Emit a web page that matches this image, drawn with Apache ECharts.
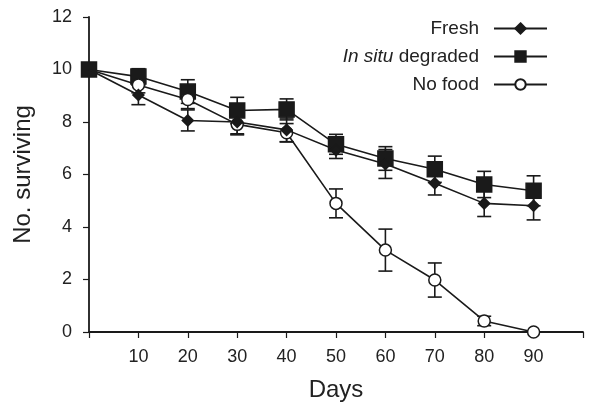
<!DOCTYPE html>
<html>
<head>
    <meta charset="utf-8">
    <title>Survival</title>
    <script src="https://cdn.jsdelivr.net/npm/echarts@6/dist/echarts.min.js"></script>
    <style>
        body { margin: 0; background: #fff; }
        #chart { width: 604px; height: 404px; }
    </style>
</head>
<body>
    <div id="chart"></div>
    <script type="text/javascript">
        // data
        var days = [0, 10, 20, 30, 40, 50, 60, 70, 80, 90];
        var freshMean = [10, 9.03, 8.06, 8.0, 7.7, 6.93, 6.4, 5.67, 4.9, 4.81];
        var freshErr  = [0, 0.37, 0.4, 0.45, 0.45, 0.32, 0.55, 0.45, 0.5, 0.54];
        var insituMean = [10, 9.73, 9.16, 8.44, 8.48, 7.15, 6.61, 6.2, 5.62, 5.38];
        var insituErr  = [0, 0.3, 0.45, 0.5, 0.4, 0.38, 0.45, 0.5, 0.5, 0.57];
        var nofoodMean = [10, 9.41, 8.86, 7.91, 7.59, 4.9, 3.12, 1.98, 0.42, 0];
        var nofoodErr  = [0, 0.3, 0.35, 0.4, 0.35, 0.55, 0.8, 0.65, 0.18, 0];
        var yTicks = [0, 2, 4, 6, 8, 10, 12];

        var ink = '#1a1a1a';
        var chart = echarts.init(document.getElementById('chart'));

        // day 0 is a shared start point, only the square is drawn there
        function pairs(means, hideFirst) {
            return days.map(function (d, i) {
                if (hideFirst && i === 0) return { value: [d, means[i]], symbol: 'none' };
                return [d, means[i]];
            });
        }
        function errRows(means, errs) {
            var rows = [];
            days.forEach(function (d, i) {
                if (errs[i] > 0) rows.push([d, means[i] - errs[i], means[i] + errs[i]]);
            });
            return rows;
        }
        function errSeries(means, errs) {
            return {
                type: 'custom',
                z: 1,
                silent: true,
                data: errRows(means, errs),
                encode: { x: 0, y: [1, 2] },
                renderItem: function (params, api) {
                    var lo = api.coord([api.value(0), api.value(1)]);
                    var hi = api.coord([api.value(0), api.value(2)]);
                    var w = 7;
                    var st = { stroke: ink, lineWidth: 1.6 };
                    return {
                        type: 'group',
                        children: [
                            { type: 'line', shape: { x1: lo[0], y1: lo[1], x2: hi[0], y2: hi[1] }, style: st },
                            { type: 'line', shape: { x1: lo[0] - w, y1: lo[1], x2: lo[0] + w, y2: lo[1] }, style: st },
                            { type: 'line', shape: { x1: hi[0] - w, y1: hi[1], x2: hi[0] + w, y2: hi[1] }, style: st }
                        ]
                    };
                }
            };
        }
        function lineSeries(name, means, symbol, size, fill, hideFirst, z) {
            return {
                name: name,
                type: 'line',
                z: z,
                data: pairs(means, hideFirst),
                symbol: symbol,
                symbolSize: size,
                showAllSymbol: true,
                lineStyle: { color: ink, width: 1.6 },
                itemStyle: { color: fill, borderColor: ink, borderWidth: 1.5 },
                emphasis: { disabled: true }
            };
        }

        chart.setOption({
            animation: false,
            textStyle: { fontFamily: 'Liberation Sans, Arial, sans-serif', color: '#222' },
            grid: { left: 89, right: 21, top: 17, bottom: 72, outerBoundsMode: 'none' },
            legend: {
                orient: 'vertical',
                right: 51,
                top: 14,
                align: 'right',
                itemWidth: 53,
                itemHeight: 13,
                itemGap: 9,
                selectedMode: false,
                data: ['Fresh', 'In situ degraded', 'No food'],
                formatter: function (name) {
                    if (name === 'In situ degraded') return '{i|In situ} degraded';
                    return name;
                },
                textStyle: {
                    fontSize: 19,
                    color: '#222',
                    padding: [0, 10, 0, 0],
                    rich: { i: { fontStyle: 'italic', fontSize: 19, color: '#222' } }
                }
            },
            xAxis: {
                type: 'value',
                min: 0,
                max: 100,
                interval: 10,
                name: 'Days',
                nameLocation: 'middle',
                nameGap: 46,
                nameTextStyle: { fontSize: 24, color: '#222' },
                axisLine: { lineStyle: { color: ink, width: 1.8 } },
                axisTick: { lineStyle: { color: ink, width: 1.2 }, length: 6 },
                axisLabel: {
                    fontSize: 18, color: '#222', margin: 16,
                    formatter: function (v) { return (v > 0 && v < 100) ? v : ''; }
                },
                splitLine: { show: false }
            },
            yAxis: {
                type: 'value',
                min: yTicks[0],
                max: yTicks[yTicks.length - 1],
                interval: 2,
                name: 'No. surviving',
                nameLocation: 'middle',
                nameGap: 54,
                nameTextStyle: { fontSize: 24, color: '#222' },
                axisLine: { show: true, lineStyle: { color: ink, width: 1.8 } },
                axisTick: { show: true, lineStyle: { color: ink, width: 1.2 }, length: 6 },
                axisLabel: { fontSize: 18, color: '#222', margin: 17 },
                splitLine: { show: false }
            },
            series: [
                errSeries(freshMean, freshErr),
                errSeries(insituMean, insituErr),
                errSeries(nofoodMean, nofoodErr),
                lineSeries('Fresh', freshMean, 'diamond', 11, ink, true, 5),
                lineSeries('In situ degraded', insituMean, 'rect', 15, ink, false, 3),
                lineSeries('No food', nofoodMean, 'circle', 12, '#fff', true, 4)
            ]
        });
    </script>
</body>
</html>
